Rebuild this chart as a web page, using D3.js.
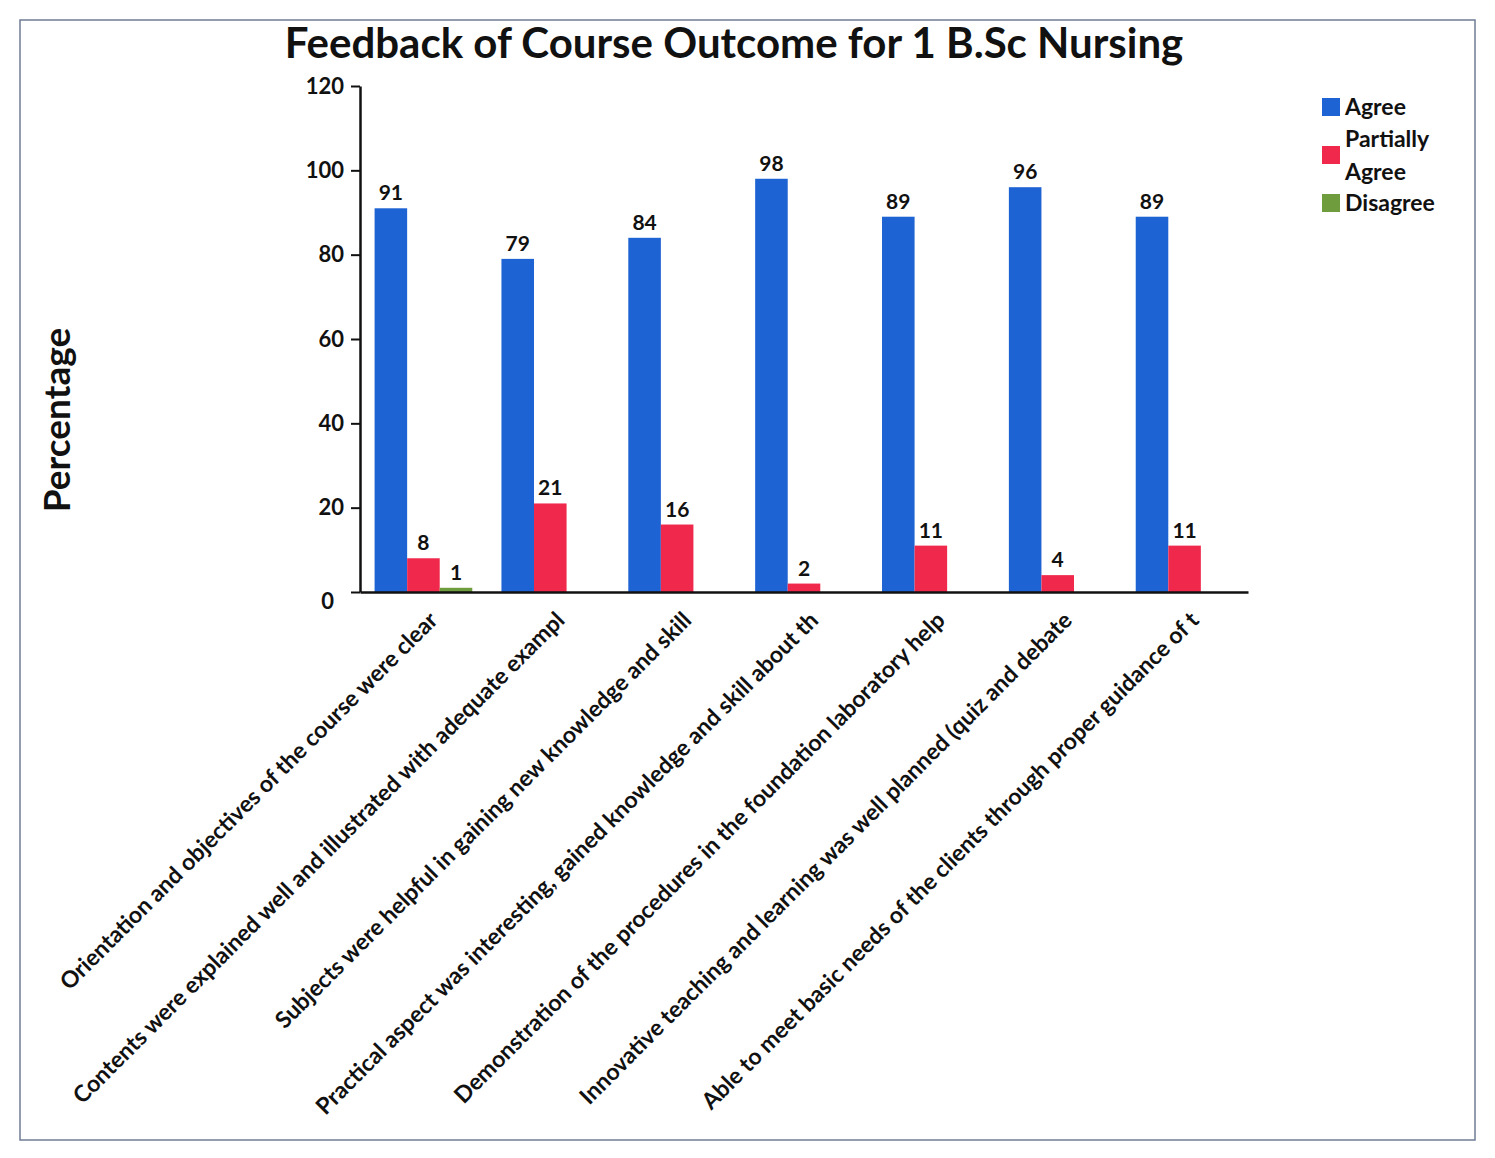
<!DOCTYPE html>
<html>
<head>
<meta charset="utf-8">
<script src="https://cdn.jsdelivr.net/npm/d3@7"></script>
<style>
  html, body { margin: 0; padding: 0; background: #ffffff; }
  svg { display: block; }
  text { font-family: Lato, "Open Sans", "DejaVu Sans", sans-serif; font-weight: 700; }
</style>
</head>
<body>
<svg id="chart" width="1495" height="1158"></svg>
<script>
const categories = [
  "Orientation and objectives of the course were clear",
  "Contents were explained well and illustrated with adequate exampl",
  "Subjects were helpful in gaining new knowledge and skill",
  "Practical aspect was interesting, gained knowledge and skill about th",
  "Demonstration of the procedures in the foundation laboratory help",
  "Innovative teaching and learning was well planned (quiz and debate",
  "Able to meet basic needs of the clients through proper guidance of t"
];
const seriesNames = ["Agree", "Partially Agree", "Disagree"];
const agree = [91, 79, 84, 98, 89, 96, 89];
const partiallyAgree = [8, 21, 16, 2, 11, 4, 11];
const disagree = [1, null, null, null, null, null, null];
const yTicks = [0, 20, 40, 60, 80, 100, 120];
const colors = ["#1d63d3", "#f0284c", "#6f9c3c"];

(function () {
const svg = d3.select("#chart");

// outer frame
svg.append("rect")
  .attr("x", 20).attr("y", 20).attr("width", 1455).attr("height", 1120)
  .attr("fill", "none").attr("stroke", "#6f7c94").attr("stroke-width", 1.5);

const mLeft = 360, mRight = 1248, mTop = 86, mBottom = 592;
const x = d3.scaleBand().domain(categories).range([mLeft, mRight]).paddingInner(0.23).paddingOuter(0.115);
const x1 = d3.scaleBand().domain(seriesNames).range([0, x.bandwidth()]);
const y = d3.scaleLinear().domain([0, 120]).range([mBottom, mTop]);

const allSeries = [agree, partiallyAgree, disagree];

// y axis
const yAxis = d3.axisLeft(y).tickValues(yTicks).tickSize(9).tickSizeOuter(0);
const yg = svg.append("g").attr("transform", `translate(${mLeft},0)`).call(yAxis);
yg.select(".domain").attr("stroke", "#111").attr("stroke-width", 2.5);
yg.selectAll(".tick line").attr("stroke", "#111").attr("stroke-width", 2);
yg.selectAll(".tick text").attr("font-size", 22).attr("fill", "#111").attr("dx", -4)
  .attr("font-family", "Lato, sans-serif").attr("font-weight", 700);
yg.select(".tick text").attr("dy", "0.75em").attr("x", -22);

// bars
categories.forEach((c, i) => {
  allSeries.forEach((s, j) => {
    const v = s[i];
    if (v === null || v === undefined) return;
    const bx = x(c) + x1(seriesNames[j]);
    const bw = x1.bandwidth();
    svg.append("rect")
      .attr("x", bx).attr("y", y(v))
      .attr("width", bw).attr("height", y(0) - y(v))
      .attr("fill", colors[j]);
    svg.append("text")
      .attr("x", bx + bw / 2).attr("y", y(v) - 8)
      .attr("text-anchor", "middle").attr("font-size", 21).attr("fill", "#111")
      .text(v);
  });
});

// x axis
const xAxis = d3.axisBottom(x).tickSize(0).tickSizeOuter(0);
const xg = svg.append("g").attr("transform", `translate(0,${mBottom})`).call(xAxis);
xg.select(".domain").attr("stroke", "#111").attr("stroke-width", 2.5);
xg.selectAll(".tick text")
  .attr("font-size", 23).attr("fill", "#111")
  .attr("font-family", "Lato, sans-serif").attr("font-weight", 700)
  .attr("text-anchor", "end")
  .attr("transform", "translate(10,24) rotate(-45)")
  .attr("dy", "0.35em").attr("y", 0).attr("x", 0);

// y axis title
svg.append("text")
  .attr("transform", "translate(70,420) rotate(-90)")
  .attr("text-anchor", "middle").attr("font-size", 37).attr("fill", "#111")
  .text("Percentage");

// title
svg.append("text")
  .attr("x", 734).attr("y", 58)
  .attr("text-anchor", "middle").attr("font-size", 42).attr("fill", "#111")
  .text("Feedback of Course Outcome for 1 B.Sc Nursing");

// legend
const legend = svg.append("g").attr("transform", "translate(1322,0)");
const legendItems = [
  { lines: ["Agree"], y: 107 },
  { lines: ["Partially", "Agree"], y: 155 },
  { lines: ["Disagree"], y: 203 }
];
legendItems.forEach((d, i) => {
  legend.append("rect").attr("x", 0).attr("y", d.y - 9).attr("width", 18).attr("height", 18)
    .attr("fill", colors[i]);
  const t = legend.append("text").attr("x", 23).attr("font-size", 23).attr("fill", "#111");
  const n = d.lines.length;
  d.lines.forEach((l, k) => {
    t.append("tspan").attr("x", 23).attr("y", d.y + 8 + (k - (n - 1) / 2) * 33).text(l);
  });
});
})();
</script>
</body>
</html>
